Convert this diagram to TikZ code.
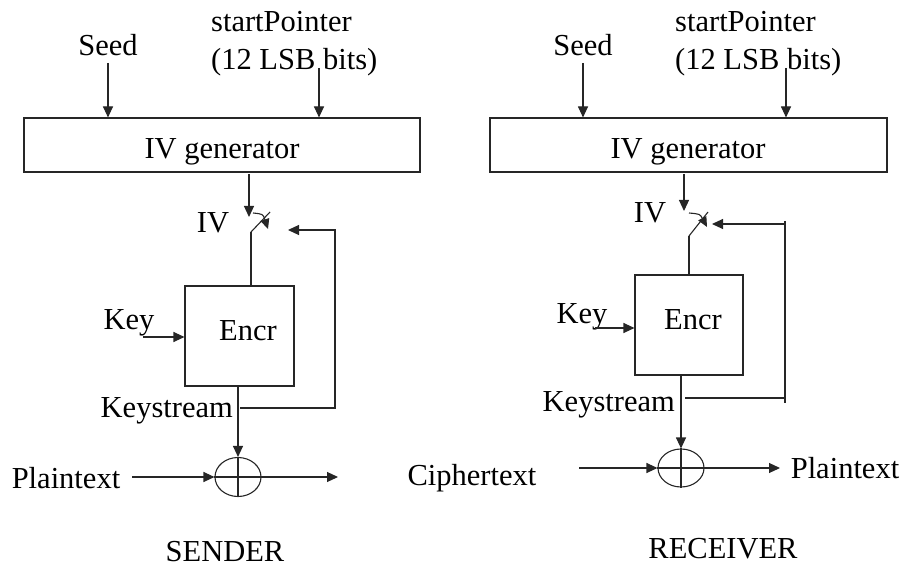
\documentclass[tikz,border=0pt]{standalone}
\usepackage{fontspec}
\setmainfont{Liberation Serif}
\usetikzlibrary{arrows.meta,shapes.geometric}
\begin{document}
\begin{tikzpicture}[x=1pt,y=-1pt,
  ln/.style={line width=1.1pt, draw=black!85},
  arr/.style={ln, -{Triangle[length=11pt,width=10pt]}},
  sarr/.style={ln, -{Triangle[length=10pt,width=9pt]}},
  lbl/.style={font=\fontsize{30.5}{38}\selectfont, inner sep=0pt},
  boxst/.style={ln, rectangle, inner sep=0pt},
  xorst/.style={ln, ellipse, inner sep=0pt},
]
\useasboundingbox (0,0) rectangle (901,569);

% ================= SENDER =================
\node[boxst, minimum width=396pt, minimum height=54pt] (ivg1) at (222,145) {};
\node[lbl] (ivt1) at (222,152) {IV generator};
\node[lbl] (seed1) at (108,45) {Seed};
\node[lbl, align=left, anchor=west] (sp1) at (211,44) {startPointer\\(12 LSB bits)};
\coordinate (s1a) at (108,63);
\draw[arr] (s1a) -- (s1a |- ivg1.north);
\coordinate (p1a) at (319,68);
\draw[arr] (p1a) -- (p1a |- ivg1.north);

\coordinate (iv1a) at (249,174);
\coordinate (iv1b) at (249,217);
\draw[arr] (iv1a) -- (iv1b);
\node[lbl] (ivl1) at (213,223) {IV};

% switch
\coordinate (lev1a) at (251,232);
\coordinate (lev1b) at (270,212);
\draw[ln] (lev1a) -- (lev1b);
\coordinate (arc1a) at (253,213);
\coordinate (arc1b) at (268,229);
\draw[sarr] (arc1a) .. controls (263,214) .. (arc1b);

\node[boxst, minimum width=109pt, minimum height=100pt] (enc1) at (239.5,336) {};
\node[lbl] (enct1) at (248,331) {Encr};
\draw[ln] (lev1a) -- (lev1a |- enc1.north);

\node[lbl] (key1) at (129,323) {Key};
\coordinate (k1a) at (143,337);
\draw[arr] (k1a) -- (k1a -| enc1.west);

\node[xorst, minimum width=46pt, minimum height=39pt] (xor1) at (238,477) {};
\draw[ln] (xor1.north) -- (xor1.south);
\draw[ln] (xor1.west) -- (xor1.east);
\coordinate (ks1a) at (238,386);
\draw[arr] (ks1a) -- (xor1.north);
\node[lbl, anchor=east] (ksl1) at (233,411) {Keystream};

\coordinate (fb1a) at (240,408);
\coordinate (fb1b) at (335,408);
\coordinate (fb1c) at (335,230);
\coordinate (fb1d) at (288,230);
\draw[arr] (fb1a) -- (fb1b) -- (fb1c) -- (fb1d);

\node[lbl] (pt1) at (66,478) {Plaintext};
\coordinate (in1) at (132,477);
\draw[arr] (in1) -- (xor1.west);
\coordinate (out1) at (338,477);
\draw[arr] (xor1.east) -- (out1);

\node[lbl] (snd) at (225,552) {SENDER};

% ================= RECEIVER =================
\node[boxst, minimum width=397pt, minimum height=54pt] (ivg2) at (688.5,145) {};
\node[lbl] (ivt2) at (688,152) {IV generator};
\node[lbl] (seed2) at (583,45) {Seed};
\node[lbl, align=left, anchor=west] (sp2) at (675,44) {startPointer\\(12 LSB bits)};
\coordinate (s2a) at (583,63);
\draw[arr] (s2a) -- (s2a |- ivg2.north);
\coordinate (p2a) at (786,68);
\draw[arr] (p2a) -- (p2a |- ivg2.north);

\coordinate (iv2a) at (684,174);
\coordinate (iv2b) at (684,211);
\draw[arr] (iv2a) -- (iv2b);
\node[lbl] (ivl2) at (650,213) {IV};

\coordinate (lev2a) at (689,236);
\coordinate (lev2b) at (708,212);
\draw[ln] (lev2a) -- (lev2b);
\coordinate (arc2a) at (689,213);
\coordinate (arc2b) at (707,227);
\draw[sarr] (arc2a) .. controls (700,214) .. (arc2b);

\node[boxst, minimum width=108pt, minimum height=100pt] (enc2) at (689,325) {};
\node[lbl] (enct2) at (693,320) {Encr};
\draw[ln] (lev2a) -- (lev2a |- enc2.north);

\node[lbl] (key2) at (582,317) {Key};
\coordinate (k2a) at (595,328);
\draw[arr] (k2a) -- (k2a -| enc2.west);

\node[xorst, minimum width=46pt, minimum height=38pt] (xor2) at (681,468) {};
\draw[ln] (xor2.north) -- (xor2.south);
\draw[ln] (xor2.west) -- (xor2.east);
\coordinate (ks2a) at (681,375);
\draw[arr] (ks2a) -- (xor2.north);
\node[lbl, anchor=east] (ksl2) at (675,405) {Keystream};

\coordinate (fb2a) at (685,398);
\coordinate (fb2b) at (785,398);
\coordinate (fb2c) at (785,224);
\coordinate (fb2d) at (712,224);
\coordinate (fb2top) at (785,221);
\coordinate (fb2bot) at (785,403);
\draw[ln] (fb2a) -- (fb2b);
\draw[ln] (fb2top) -- (fb2bot);
\draw[arr] (fb2c) -- (fb2d);

\node[lbl] (ct2) at (472,478) {Ciphertext};
\coordinate (in2) at (579,468);
\draw[arr] (in2) -- (xor2.west);
\coordinate (out2) at (780,468);
\draw[arr] (xor2.east) -- (out2);
\node[lbl] (pt2) at (845,468) {Plaintext};

\node[lbl] (rcv) at (723,549) {RECEIVER};
\end{tikzpicture}
\end{document}
